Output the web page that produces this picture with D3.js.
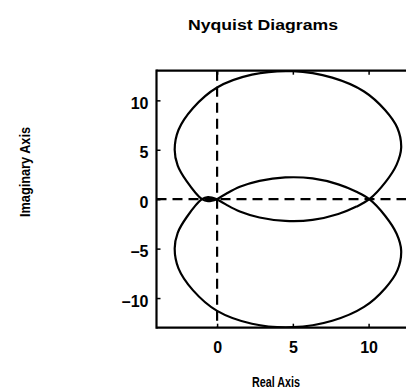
<!DOCTYPE html>
<html>
<head>
<meta charset="utf-8">
<script src="https://cdn.jsdelivr.net/npm/d3@7/dist/d3.min.js"></script>
<style>
  html, body { margin: 0; padding: 0; background: #fff; }
  svg { display: block; }
  text { font-family: "Liberation Sans", Arial, Helvetica, sans-serif; font-weight: bold; fill: #000; }
</style>
</head>
<body>
<svg id="chart" width="406" height="388"></svg>
<script>
// Nyquist locus, positive-frequency branch: real and imaginary parts
const realPart = [0, 0.6, 1.5, 2.8, 4.5, 6.3, 8.0, 9.2, 10.05, 11.1, 11.85, 12.15, 11.9, 11.1, 9.7, 7.6, 5.0, 2.3, 0.0, -1.6, -2.55, -2.8, -2.6, -2.0, -1.0, -0.6, 0];
const imagPart = [0, 0.55, 1.25, 1.85, 2.2, 2.1, 1.5, 0.75, 0, -1.7, -3.5, -5.2, -7.2, -9.0, -10.9, -12.3, -12.95, -12.6, -11.3, -9.2, -7.0, -5.0, -3.4, -1.8, 0, 0.2, 0];

// Axis ticks and labels
const xTicks = [0, 5, 10];
const xTickLabels = ["0", "5", "10"];
const yTicks = [-10, -5, 0, 5, 10];
const yTickLabels = ["\u201310", "\u20135", "0", "5", "10"];
const xDomain = [-4, 13];
const yDomain = [-13, 13];

const title = "Nyquist Diagrams";
const xLabel = "Real Axis";
const yLabel = "Imaginary Axis";

const svg = d3.select("#chart");
const plotLeft = 156.5, plotTop = 70.7, plotBottom = 327.7;
const plotRight = plotLeft + 17 * 15.15;

const x = d3.scaleLinear().domain(xDomain).range([plotLeft, plotRight]);
const y = d3.scaleLinear().domain(yDomain).range([plotBottom, plotTop]);

svg.append("defs").append("clipPath").attr("id", "plotClip")
  .append("rect").attr("x", plotLeft).attr("y", plotTop)
  .attr("width", plotRight - plotLeft).attr("height", plotBottom - plotTop);

const plot = svg.append("g").attr("clip-path", "url(#plotClip)");

// dashed zero lines
plot.append("line")
  .attr("x1", plotLeft).attr("x2", plotRight)
  .attr("y1", y(0)).attr("y2", y(0))
  .attr("stroke", "#000").attr("stroke-width", 2.2)
  .attr("stroke-dasharray", "10,6");
plot.append("line")
  .attr("x1", x(0)).attr("x2", x(0))
  .attr("y1", plotTop).attr("y2", plotBottom)
  .attr("stroke", "#000").attr("stroke-width", 2.2)
  .attr("stroke-dasharray", "10,6");

const pts = realPart.map((r, i) => [r, imagPart[i]]);
const line = d3.line()
  .x(d => x(d[0]))
  .y(d => y(d[1]))
  .curve(d3.curveCatmullRom.alpha(0.5));

// positive frequencies
plot.append("path").attr("d", line(pts))
  .attr("fill", "none").attr("stroke", "#000").attr("stroke-width", 2.2);
// negative frequencies: complex conjugate of the same locus
plot.append("path").attr("d", line(pts.map(p => [p[0], -p[1]])))
  .attr("fill", "none").attr("stroke", "#000").attr("stroke-width", 2.2);

// axes with inward ticks
const yAxis = d3.axisLeft(y).tickValues(yTicks)
  .tickFormat((d, i) => yTickLabels[i]).tickSize(-4).tickPadding(8);
const gy = svg.append("g").attr("transform", `translate(${plotLeft},0)`).call(yAxis);
gy.selectAll("text").attr("font-size", 16).attr("dy", "0.5em");

const xAxis = d3.axisBottom(x).tickValues(xTicks)
  .tickFormat((d, i) => xTickLabels[i]).tickSize(-4).tickPadding(14);
const gx = svg.append("g").attr("transform", `translate(0,${plotBottom})`).call(xAxis);
gx.selectAll("text").attr("font-size", 16);

const xAxisTop = d3.axisTop(x).tickValues(xTicks).tickFormat("").tickSize(-4);
const gxt = svg.append("g").attr("transform", `translate(0,${plotTop})`).call(xAxisTop);

[gy, gx, gxt].forEach(g => {
  g.selectAll(".domain").remove();
  g.selectAll(".tick line").attr("stroke", "#000").attr("stroke-width", 1.5);
  g.selectAll("text").attr("fill", "#000")
    .style("font-family", "'Liberation Sans', Arial, sans-serif").style("font-weight", "bold");
});

// frame
svg.append("line").attr("x1", plotLeft).attr("x2", plotRight).attr("y1", plotTop).attr("y2", plotTop)
  .attr("stroke", "#000").attr("stroke-width", 2.2);
svg.append("line").attr("x1", plotLeft).attr("x2", plotRight).attr("y1", plotBottom).attr("y2", plotBottom)
  .attr("stroke", "#000").attr("stroke-width", 2.2);
svg.append("line").attr("x1", plotLeft).attr("x2", plotLeft).attr("y1", plotTop - 1.1).attr("y2", plotBottom + 1.1)
  .attr("stroke", "#000").attr("stroke-width", 2.2);

// titles
svg.append("text").attr("x", 263).attr("y", 29.5)
  .attr("text-anchor", "middle").attr("font-size", 14.5)
  .attr("textLength", 150).attr("lengthAdjust", "spacingAndGlyphs")
  .text(title);
svg.append("text").attr("x", 276).attr("y", 386.5)
  .attr("text-anchor", "middle").attr("font-size", 14)
  .attr("textLength", 48).attr("lengthAdjust", "spacingAndGlyphs")
  .text(xLabel);
svg.append("text")
  .attr("transform", "translate(29.5,172) rotate(-90)")
  .attr("text-anchor", "middle").attr("font-size", 14)
  .attr("textLength", 90).attr("lengthAdjust", "spacingAndGlyphs")
  .text(yLabel);
</script>
</body>
</html>
